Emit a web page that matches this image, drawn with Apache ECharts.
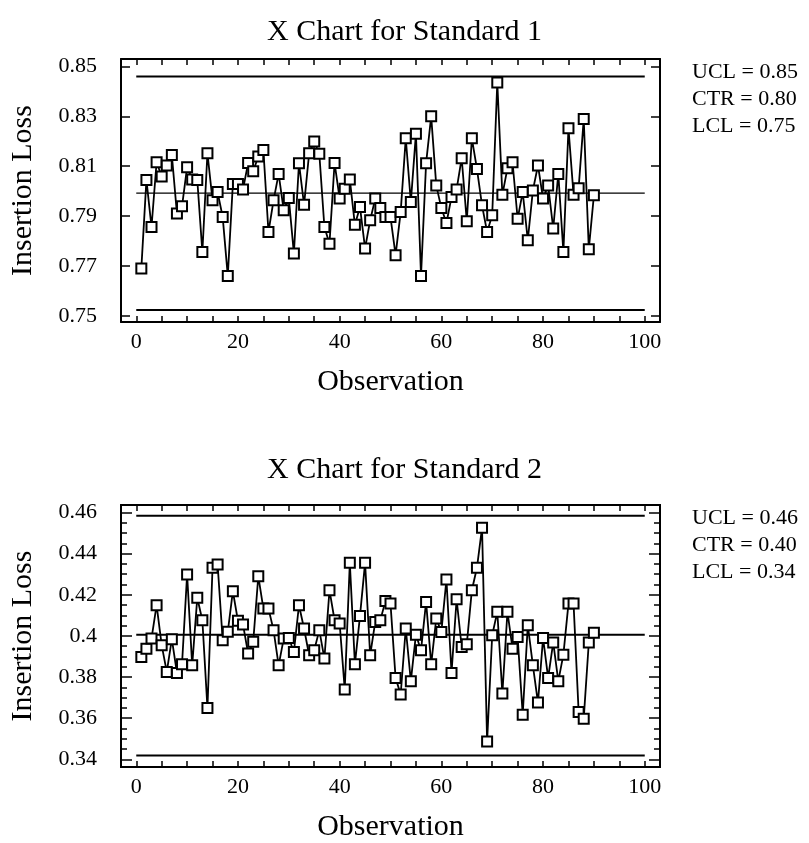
<!DOCTYPE html>
<html>
<head>
<meta charset="utf-8">
<script src="https://cdn.jsdelivr.net/npm/echarts@6/dist/echarts.min.js"></script>
<style>html,body{margin:0;padding:0;background:#fff}#c{width:809px;height:843px}</style>
</head>
<body>
<div id="c"></div>
<script>
// ---- data ----
const titles = ['X Chart for Standard 1', 'X Chart for Standard 2'];
const xName = 'Observation';
const yName = 'Insertion Loss';
const xTickLabels = [0, 20, 40, 60, 80, 100];
const yTickLabels1 = [0.75, 0.77, 0.79, 0.81, 0.83, 0.85];
const yTickLabels2 = [0.34, 0.36, 0.38, 0.40, 0.42, 0.44, 0.46];
const limits1 = { UCL: 0.846, CTR: 0.7992, LCL: 0.7523 };
const limits2 = { UCL: 0.4584, CTR: 0.4005, LCL: 0.3419 };
const standard1 = [0.769, 0.8045, 0.7856, 0.8116, 0.8059, 0.8103, 0.8145, 0.791, 0.7939, 0.8096,
  0.8047, 0.8045, 0.7756, 0.8152, 0.7963, 0.7996, 0.7896, 0.766, 0.8029, 0.8029,
  0.8007, 0.8113, 0.808, 0.8139, 0.8165, 0.7836, 0.7963, 0.8069, 0.7923, 0.7972,
  0.775, 0.8112, 0.7945, 0.8152, 0.8199, 0.815, 0.7856, 0.7789, 0.8113, 0.797,
  0.801, 0.8047, 0.7865, 0.7936, 0.777, 0.7883, 0.797, 0.7932, 0.7896, 0.7896,
  0.7743, 0.7916, 0.8212, 0.7956, 0.823, 0.766, 0.8112, 0.83, 0.8023, 0.7932,
  0.7872, 0.7976, 0.8007, 0.8132, 0.7879, 0.8212, 0.8089, 0.7943, 0.7836, 0.7903,
  0.8436, 0.7985, 0.8092, 0.8116, 0.7889, 0.7996, 0.7803, 0.8003, 0.8103, 0.797,
  0.8023, 0.785, 0.8069, 0.7756, 0.8252, 0.7985, 0.8012, 0.8289, 0.7767, 0.7983];
const standard2 = [0.3898, 0.3938, 0.3987, 0.4149, 0.3955, 0.3825, 0.3984, 0.382, 0.3862, 0.4298,
  0.3857, 0.4185, 0.4076, 0.365, 0.4331, 0.4347, 0.3979, 0.402, 0.4217, 0.4073,
  0.4055, 0.3914, 0.3971, 0.429, 0.4133, 0.4133, 0.4028, 0.3857, 0.3987, 0.399,
  0.3922, 0.4149, 0.4036, 0.3906, 0.393, 0.4028, 0.389, 0.4222, 0.4076, 0.406,
  0.374, 0.4355, 0.3862, 0.4097, 0.4355, 0.3906, 0.4068, 0.4076, 0.4169, 0.4157,
  0.3796, 0.3715, 0.4036, 0.378, 0.4006, 0.393, 0.4165, 0.3862, 0.4084, 0.4019,
  0.4274, 0.382, 0.4178, 0.3946, 0.3959, 0.4222, 0.4331, 0.4525, 0.3487, 0.4003,
  0.4117, 0.372, 0.4117, 0.3938, 0.3995, 0.3617, 0.4052, 0.3857, 0.3676, 0.399,
  0.3796, 0.3968, 0.378, 0.3909, 0.4157, 0.4157, 0.363, 0.3598, 0.3968, 0.4015];
const limitStart = 0, limitEnd = 100;

// ---- build ----
const FONT = 'Liberation Serif, Times New Roman, serif';
const xTicks = []; for (let k = 0; k <= 20; k++) xTicks.push(k * 5);
const minor2 = []; for (let k = 68; k <= 92; k++) if (k % 4 !== 0) minor2.push(k / 200);

function xAxisDef(grid, pos, withLabels) {
  return {
    type: 'value', gridIndex: grid, position: pos, min: -3, max: 103,
    name: withLabels ? xName : '', nameLocation: 'middle', nameGap: 45,
    nameTextStyle: { fontFamily: FONT, fontSize: 30, color: '#000' },
    axisLine: { show: true, onZero: false, lineStyle: { color: '#000', width: 2 } },
    axisTick: { show: true, inside: true, length: 6, customValues: xTicks, lineStyle: { color: '#000', width: 1.5 } },
    axisLabel: { show: withLabels, customValues: xTickLabels, margin: 9, fontFamily: FONT, fontSize: 22, color: '#000' },
    splitLine: { show: false }
  };
}
function yAxisDef(grid, pos, min, max, ticks, len, labels, fmt, name) {
  return {
    type: 'value', gridIndex: grid, position: pos, min: min, max: max,
    name: name || '', nameLocation: 'middle', nameGap: 83, nameRotate: 90,
    nameTextStyle: { fontFamily: FONT, fontSize: 30, color: '#000' },
    axisLine: { show: true, onZero: false, lineStyle: { color: '#000', width: 2 } },
    axisTick: { show: true, inside: true, length: len, customValues: ticks, lineStyle: { color: '#000', width: 1.5 } },
    axisLabel: { show: !!labels, customValues: labels || ticks, margin: 24, fontFamily: FONT, fontSize: 22, color: '#000', formatter: fmt },
    splitLine: { show: false }
  };
}
const fmt1 = v => (+v).toFixed(2);
const fmt2 = v => String(+(+v).toFixed(2));

function limitSeries(xi, yi, val, w) {
  return { type: 'line', xAxisIndex: xi, yAxisIndex: yi, data: [[limitStart, val], [limitEnd, val]],
    symbol: 'none', silent: true, lineStyle: { color: '#000', width: w }, z: 1 };
}
function dataSeries(xi, yi, vals) {
  return { type: 'line', xAxisIndex: xi, yAxisIndex: yi, data: vals.map((v, i) => [i + 1, v]),
    symbol: 'rect', symbolSize: 10, showSymbol: true,
    lineStyle: { color: '#000', width: 1.8 },
    itemStyle: { color: '#fff', borderColor: '#000', borderWidth: 2 }, z: 3 };
}
function limitText(l) {
  return [['UCL', l.UCL], ['CTR', l.CTR], ['LCL', l.LCL]].map(p => p[0] + ' = ' + p[1].toFixed(2));
}
const t1 = limitText(limits1), t2 = limitText(limits2);
const graphic = [];
[[t1, 61], [t2, 507]].forEach(([arr, top]) => {
  arr.forEach((s, i) => graphic.push({ type: 'text', left: 692, top: top + i * 27,
    style: { text: s, font: '22px ' + FONT, fill: '#000' } }));
});

const option = {
  animation: false,
  backgroundColor: '#fff',
  title: [
    { text: titles[0], left: 'center', top: 12, textStyle: { fontFamily: FONT, fontSize: 30, fontWeight: 'normal', color: '#000' } },
    { text: titles[1], left: 'center', top: 450, textStyle: { fontFamily: FONT, fontSize: 30, fontWeight: 'normal', color: '#000' } }
  ],
  grid: [
    { left: 118, top: 59, width: 542, height: 263 },
    { left: 118, top: 505, width: 542, height: 262 }
  ],
  xAxis: [xAxisDef(0, 'bottom', true), xAxisDef(0, 'top', false), xAxisDef(1, 'bottom', true), xAxisDef(1, 'top', false)],
  yAxis: [
    yAxisDef(0, 'left', 0.7475, 0.853, yTickLabels1, 9, yTickLabels1, fmt1, yName),
    yAxisDef(0, 'right', 0.7475, 0.853, yTickLabels1, 9, null, fmt1),
    yAxisDef(1, 'left', 0.3363, 0.4636, yTickLabels2, 11, yTickLabels2, fmt2, yName),
    yAxisDef(1, 'left', 0.3363, 0.4636, minor2, 6, null, fmt2),
    yAxisDef(1, 'right', 0.3363, 0.4636, yTickLabels2, 11, null, fmt2),
    yAxisDef(1, 'right', 0.3363, 0.4636, minor2, 6, null, fmt2)
  ],
  series: [
    limitSeries(0, 0, limits1.UCL, 2), limitSeries(0, 0, limits1.CTR, 1.2), limitSeries(0, 0, limits1.LCL, 2),
    dataSeries(0, 0, standard1),
    limitSeries(2, 2, limits2.UCL, 2), limitSeries(2, 2, limits2.CTR, 2), limitSeries(2, 2, limits2.LCL, 2),
    dataSeries(2, 2, standard2)
  ],
  graphic: graphic
};
const chart = echarts.init(document.getElementById('c'), null, { renderer: 'canvas' });
chart.setOption(option);
</script>
</body>
</html>
